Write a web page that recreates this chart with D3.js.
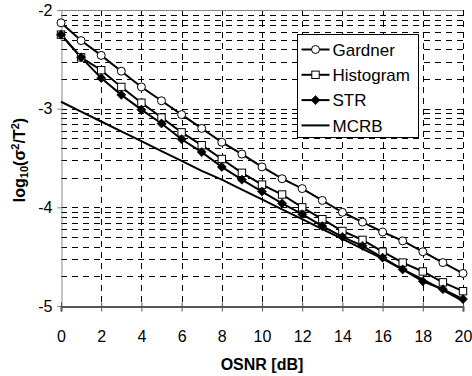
<!DOCTYPE html>
<html>
<head>
<meta charset="utf-8">
<script src="https://cdnjs.cloudflare.com/ajax/libs/d3/7.8.5/d3.min.js"></script>
<style>
	body { margin: 0; background: #fff; }
	svg { display: block; font-family: "Liberation Sans", Arial, sans-serif; }
</style>
</head>
<body>
<svg id="chart" width="472" height="376"></svg>
<script>
// OSNR values [dB]
var osnr = [0, 1, 2, 3, 4, 5, 6, 7, 8, 9, 10, 11, 12, 13, 14, 15, 16, 17, 18, 19, 20];

// log10(sigma^2/T^2)
var gardner   = [-2.13, -2.31, -2.46, -2.62, -2.78, -2.92, -3.06, -3.20, -3.34, -3.46, -3.59,
                 -3.71, -3.81, -3.93, -4.05, -4.15, -4.25, -4.34, -4.45, -4.56, -4.67];
var histogram = [-2.25, -2.48, -2.61, -2.78, -2.94, -3.09, -3.24, -3.37, -3.51, -3.65, -3.77,
                 -3.87, -4.00, -4.12, -4.24, -4.33, -4.45, -4.56, -4.65, -4.76, -4.85];
var str       = [-2.25, -2.48, -2.69, -2.86, -3.01, -3.15, -3.31, -3.44, -3.59, -3.72, -3.84,
                 -3.96, -4.07, -4.19, -4.30, -4.39, -4.51, -4.63, -4.75, -4.83, -4.93];
var mcrb      = [-2.93, -3.03, -3.13, -3.23, -3.33, -3.43, -3.53, -3.63, -3.72, -3.82, -3.92,
                 -4.02, -4.12, -4.22, -4.32, -4.42, -4.52, -4.63, -4.73, -4.84, -4.95];

var xTicks = [0, 2, 4, 6, 8, 10, 12, 14, 16, 18, 20];
var yTicks = [-2, -3, -4, -5];
var decades = [-5, -4, -3];
var mantissa = [1, 2, 3, 4, 5, 6, 7, 8, 9];

var seriesNames = ["Gardner", "Histogram", "STR", "MCRB"];
var seriesData = [gardner, histogram, str, mcrb];
var seriesMarker = ["circle", "square", "diamond", "none"];

var margin = {left: 61, top: 10, right: 9, bottom: 70},
	W = 472, H = 376,
	w = W - margin.left - margin.right,
	h = H - margin.top - margin.bottom;

var svg = d3.select("#chart");
var g = svg.append("g").attr("transform", "translate(" + margin.left + "," + margin.top + ")");

var x = d3.scaleLinear().domain([0, 20]).range([0, w]);
var y = d3.scaleLinear().domain([-5, -2]).range([h, 0]);

// plain hyphen for the minus, like the original
var fmt = function(d) { return String(d); };

// log grid lines inside each decade
var gridY = [];
decades.forEach(function(d) {
	mantissa.forEach(function(m) {
		var v = d + Math.log10(m);
		if (v > -5) gridY.push(v);
	});
});

g.selectAll(".hgrid").data(gridY).enter().append("line")
	.attr("class", "hgrid")
	.attr("x1", 0).attr("x2", w)
	.attr("y1", function(d) { return Math.round(y(d)) + 0.5; })
	.attr("y2", function(d) { return Math.round(y(d)) + 0.5; })
	.attr("stroke", "#000").attr("stroke-width", 1)
	.attr("stroke-dasharray", "6,5");

g.selectAll(".vgrid").data(xTicks.slice(1)).enter().append("line")
	.attr("class", "vgrid")
	.attr("y1", 0).attr("y2", h)
	.attr("x1", function(d) { return Math.round(x(d)) + 0.5; })
	.attr("x2", function(d) { return Math.round(x(d)) + 0.5; })
	.attr("stroke", "#000").attr("stroke-width", 1)
	.attr("stroke-dasharray", "6,5");

// plot border top
g.append("line")
	.attr("x1", 0).attr("x2", w).attr("y1", 0.5).attr("y2", 0.5)
	.attr("stroke", "#888");

// axes
var yAxis = d3.axisLeft(y).tickValues(yTicks).tickSize(4).tickPadding(5)
	.tickFormat(fmt);
var gy = g.append("g").attr("transform", "translate(0.5,0)").call(yAxis);
gy.select(".domain").attr("stroke", "#888");
gy.selectAll(".tick line").attr("stroke", "#888");

var xAxis = d3.axisBottom(x).tickValues(xTicks).tickSize(5).tickPadding(20)
	.tickFormat(fmt);
var gx = g.append("g").attr("transform", "translate(0," + (h + 0.5) + ")").call(xAxis);
gx.select(".domain").attr("stroke", "#555").attr("stroke-width", 2);
gx.selectAll(".tick line").attr("y1", -4).attr("stroke", "#555");

svg.selectAll(".tick text")
	.attr("font-family", "Liberation Sans, Arial, sans-serif")
	.attr("font-size", 16)
	.attr("fill", "#000");
gx.selectAll(".tick text").attr("dy", "0.35em").attr("y", 30);

// series lines
var line = d3.line()
	.x(function(d, i) { return x(osnr[i]); })
	.y(function(d) { return y(d); });

seriesData.forEach(function(s) {
	g.append("path")
		.datum(s)
		.attr("d", line)
		.attr("fill", "none")
		.attr("stroke", "#000")
		.attr("stroke-width", 2);
});

function drawMarker(sel, type, cx, cy) {
	switch (type) {
		case "circle":
			sel.append("circle").attr("cx", cx).attr("cy", cy).attr("r", 4)
				.attr("fill", "#fff").attr("stroke", "#000").attr("stroke-width", 1);
			break;
		case "square":
			sel.append("rect").attr("x", cx - 3.7).attr("y", cy - 3.7)
				.attr("width", 7.4).attr("height", 7.4)
				.attr("fill", "#fff").attr("stroke", "#000").attr("stroke-width", 1);
			break;
		case "diamond":
			sel.append("path")
				.attr("d", "M" + cx + "," + (cy - 4.6) + "L" + (cx + 4.6) + "," + cy +
					"L" + cx + "," + (cy + 4.6) + "L" + (cx - 4.6) + "," + cy + "Z")
				.attr("fill", "#000").attr("stroke", "#000").attr("stroke-width", 0.5);
			break;
	}
}

seriesData.forEach(function(s, k) {
	if (seriesMarker[k] === "none") return;
	var mg = g.append("g");
	s.forEach(function(v, i) {
		drawMarker(mg, seriesMarker[k], x(osnr[i]), y(v));
	});
});

// legend
var lg = svg.append("g").attr("transform", "translate(297.5,34.5)");
lg.append("rect")
	.attr("width", 121).attr("height", 103)
	.attr("fill", "#fff").attr("stroke", "#000").attr("stroke-width", 1);

seriesNames.forEach(function(name, k) {
	var ly = 15 + k * 25.3;
	lg.append("line")
		.attr("x1", 4).attr("x2", 32).attr("y1", ly).attr("y2", ly)
		.attr("stroke", "#000").attr("stroke-width", 2);
	drawMarker(lg, seriesMarker[k], 18, ly);
	lg.append("text")
		.attr("x", 35).attr("y", ly).attr("dy", "0.36em")
		.attr("font-size", 17)
		.text(name);
});

// axis titles
svg.append("text")
	.attr("x", margin.left + w / 2).attr("y", 370)
	.attr("text-anchor", "middle")
	.attr("font-size", 16).attr("font-weight", "bold")
	.text("OSNR [dB]");

var yt = svg.append("text")
	.attr("transform", "translate(25,160) rotate(-90)")
	.attr("text-anchor", "middle")
	.attr("font-size", 16).attr("font-weight", "bold");
yt.append("tspan").text("log");
yt.append("tspan").attr("font-size", 11).attr("dy", 3).text("10");
yt.append("tspan").attr("dy", -3).text("(σ");
yt.append("tspan").attr("font-size", 11).attr("dy", -6).text("2");
yt.append("tspan").attr("dy", 6).text("/T");
yt.append("tspan").attr("font-size", 11).attr("dy", -6).text("2");
yt.append("tspan").attr("dy", 6).text(")");
</script>
</body>
</html>
